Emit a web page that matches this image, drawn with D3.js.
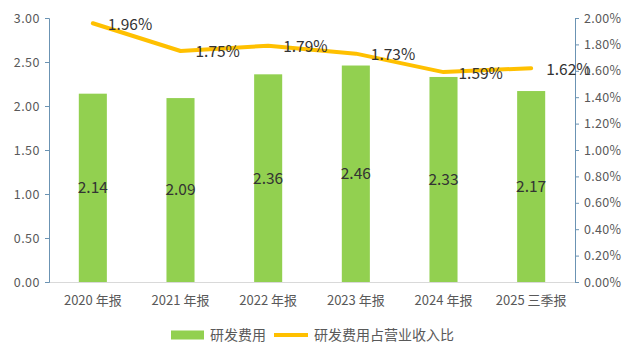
<!DOCTYPE html>
<html>
<head>
<meta charset="utf-8">
<script src="https://cdn.jsdelivr.net/npm/d3@7"></script>
<style>
  body { margin: 0; background: #fff; }
  svg text { font-family: "Noto Sans CJK SC", "Noto Sans", sans-serif; }
</style>
</head>
<body>
<svg class="chart"></svg>
<script>
const categories = ["2020 年报", "2021 年报", "2022 年报", "2023 年报", "2024 年报", "2025 三季报"];
const rdCost = [2.14, 2.09, 2.36, 2.46, 2.33, 2.17];
const rdRatio = [1.96, 1.75, 1.79, 1.73, 1.59, 1.62];
const leftTicks = [0, 0.5, 1, 1.5, 2, 2.5, 3];
const rightTicks = [0, 0.2, 0.4, 0.6, 0.8, 1, 1.2, 1.4, 1.6, 1.8, 2];

const W = 634, H = 360;
const margin = {top: 18, right: 59, bottom: 78, left: 49},
      width = W - margin.left - margin.right,
      height = H - margin.top - margin.bottom;

const barColor = "#92d050", lineColor = "#ffc000", textColor = "#595959";

let svg = d3.select(".chart").attr("width", W).attr("height", H);
let chart = svg.append("g")
  .attr("transform", "translate(" + margin.left + "," + margin.top + ")");

let x = d3.scaleBand().domain(categories).range([0, width]).paddingInner(0.68).paddingOuter(0.34);
let xc = (d) => x(d) + x.bandwidth() / 2;
let y = d3.scaleLinear().domain([0, 3]).range([height, 0]);
let y2 = d3.scaleLinear().domain([0, 2]).range([height, 0]);

// bars
chart.selectAll(".bar")
  .data(rdCost)
  .enter().append("rect")
  .attr("class", "bar")
  .attr("x", (d, i) => x(categories[i]))
  .attr("y", (d) => y(d))
  .attr("width", x.bandwidth())
  .attr("height", (d) => height - y(d))
  .style("fill", barColor);

// bottom axis
let xAxis = chart.append("g")
  .attr("transform", "translate(0," + height + ")")
  .call(d3.axisBottom(x).tickSize(0).tickPadding(14));
xAxis.select(".domain").attr("stroke", "#d9d9d9").attr("d", "M0,0.5H" + width);
xAxis.selectAll("text").attr("fill", textColor).style("font-size", "13px");

// left axis
let yAxis = chart.append("g")
  .call(d3.axisLeft(y).tickValues(leftTicks).tickFormat(d3.format(".2f")).tickSize(4).tickSizeOuter(4).tickPadding(5));
yAxis.select(".domain").attr("stroke", "#6b93b3");
yAxis.selectAll(".tick line").attr("stroke", "#6b93b3");
yAxis.selectAll("text").attr("fill", textColor).style("font-size", "12.5px").style("letter-spacing", "0.5px");

// right axis
let y2Axis = chart.append("g")
  .attr("transform", "translate(" + width + ",0)")
  .call(d3.axisRight(y2).tickValues(rightTicks).tickFormat((d) => d.toFixed(2) + "%").tickSize(4).tickSizeOuter(4).tickPadding(5));
y2Axis.select(".domain").attr("stroke", "#6b93b3");
y2Axis.selectAll(".tick line").attr("stroke", "#6b93b3");
y2Axis.selectAll("text").attr("fill", textColor).style("font-size", "12.5px").style("letter-spacing", "0.3px");

// bar value labels
chart.selectAll(".bar-label")
  .data(rdCost)
  .enter().append("text")
  .attr("x", (d, i) => xc(categories[i]))
  .attr("y", (d) => (y(d) + height) / 2)
  .attr("dy", "0.35em")
  .attr("text-anchor", "middle")
  .attr("fill", "#333")
  .style("font-size", "15.5px")
  .text((d) => d.toFixed(2));

// ratio line
let line = d3.line()
  .x((d, i) => xc(categories[i]))
  .y((d) => y2(d));
chart.append("path")
  .datum(rdRatio)
  .attr("d", line)
  .attr("fill", "none")
  .attr("stroke", lineColor)
  .attr("stroke-width", 4)
  .attr("stroke-linejoin", "round")
  .attr("stroke-linecap", "round");

chart.selectAll(".line-label")
  .data(rdRatio)
  .enter().append("text")
  .attr("x", (d, i) => xc(categories[i]) + 15)
  .attr("y", (d) => y2(d) + 1)
  .attr("dy", "0.35em")
  .attr("fill", "#333")
  .style("font-size", "15.5px")
  .text((d) => d.toFixed(2) + "%");

// legend
let legend = svg.append("g").attr("transform", "translate(171,335)");
legend.append("rect").attr("x", 0).attr("y", -4.5).attr("width", 33).attr("height", 9).style("fill", barColor);
legend.append("text").attr("x", 39).attr("y", 0).attr("dy", "0.35em")
  .attr("fill", textColor).style("font-size", "14px").text("研发费用");
legend.append("line").attr("x1", 103).attr("x2", 137).attr("y1", 0).attr("y2", 0)
  .attr("stroke", lineColor).attr("stroke-width", 4);
legend.append("text").attr("x", 143).attr("y", 0).attr("dy", "0.35em")
  .attr("fill", textColor).style("font-size", "14px").text("研发费用占营业收入比");
</script>
</body>
</html>
